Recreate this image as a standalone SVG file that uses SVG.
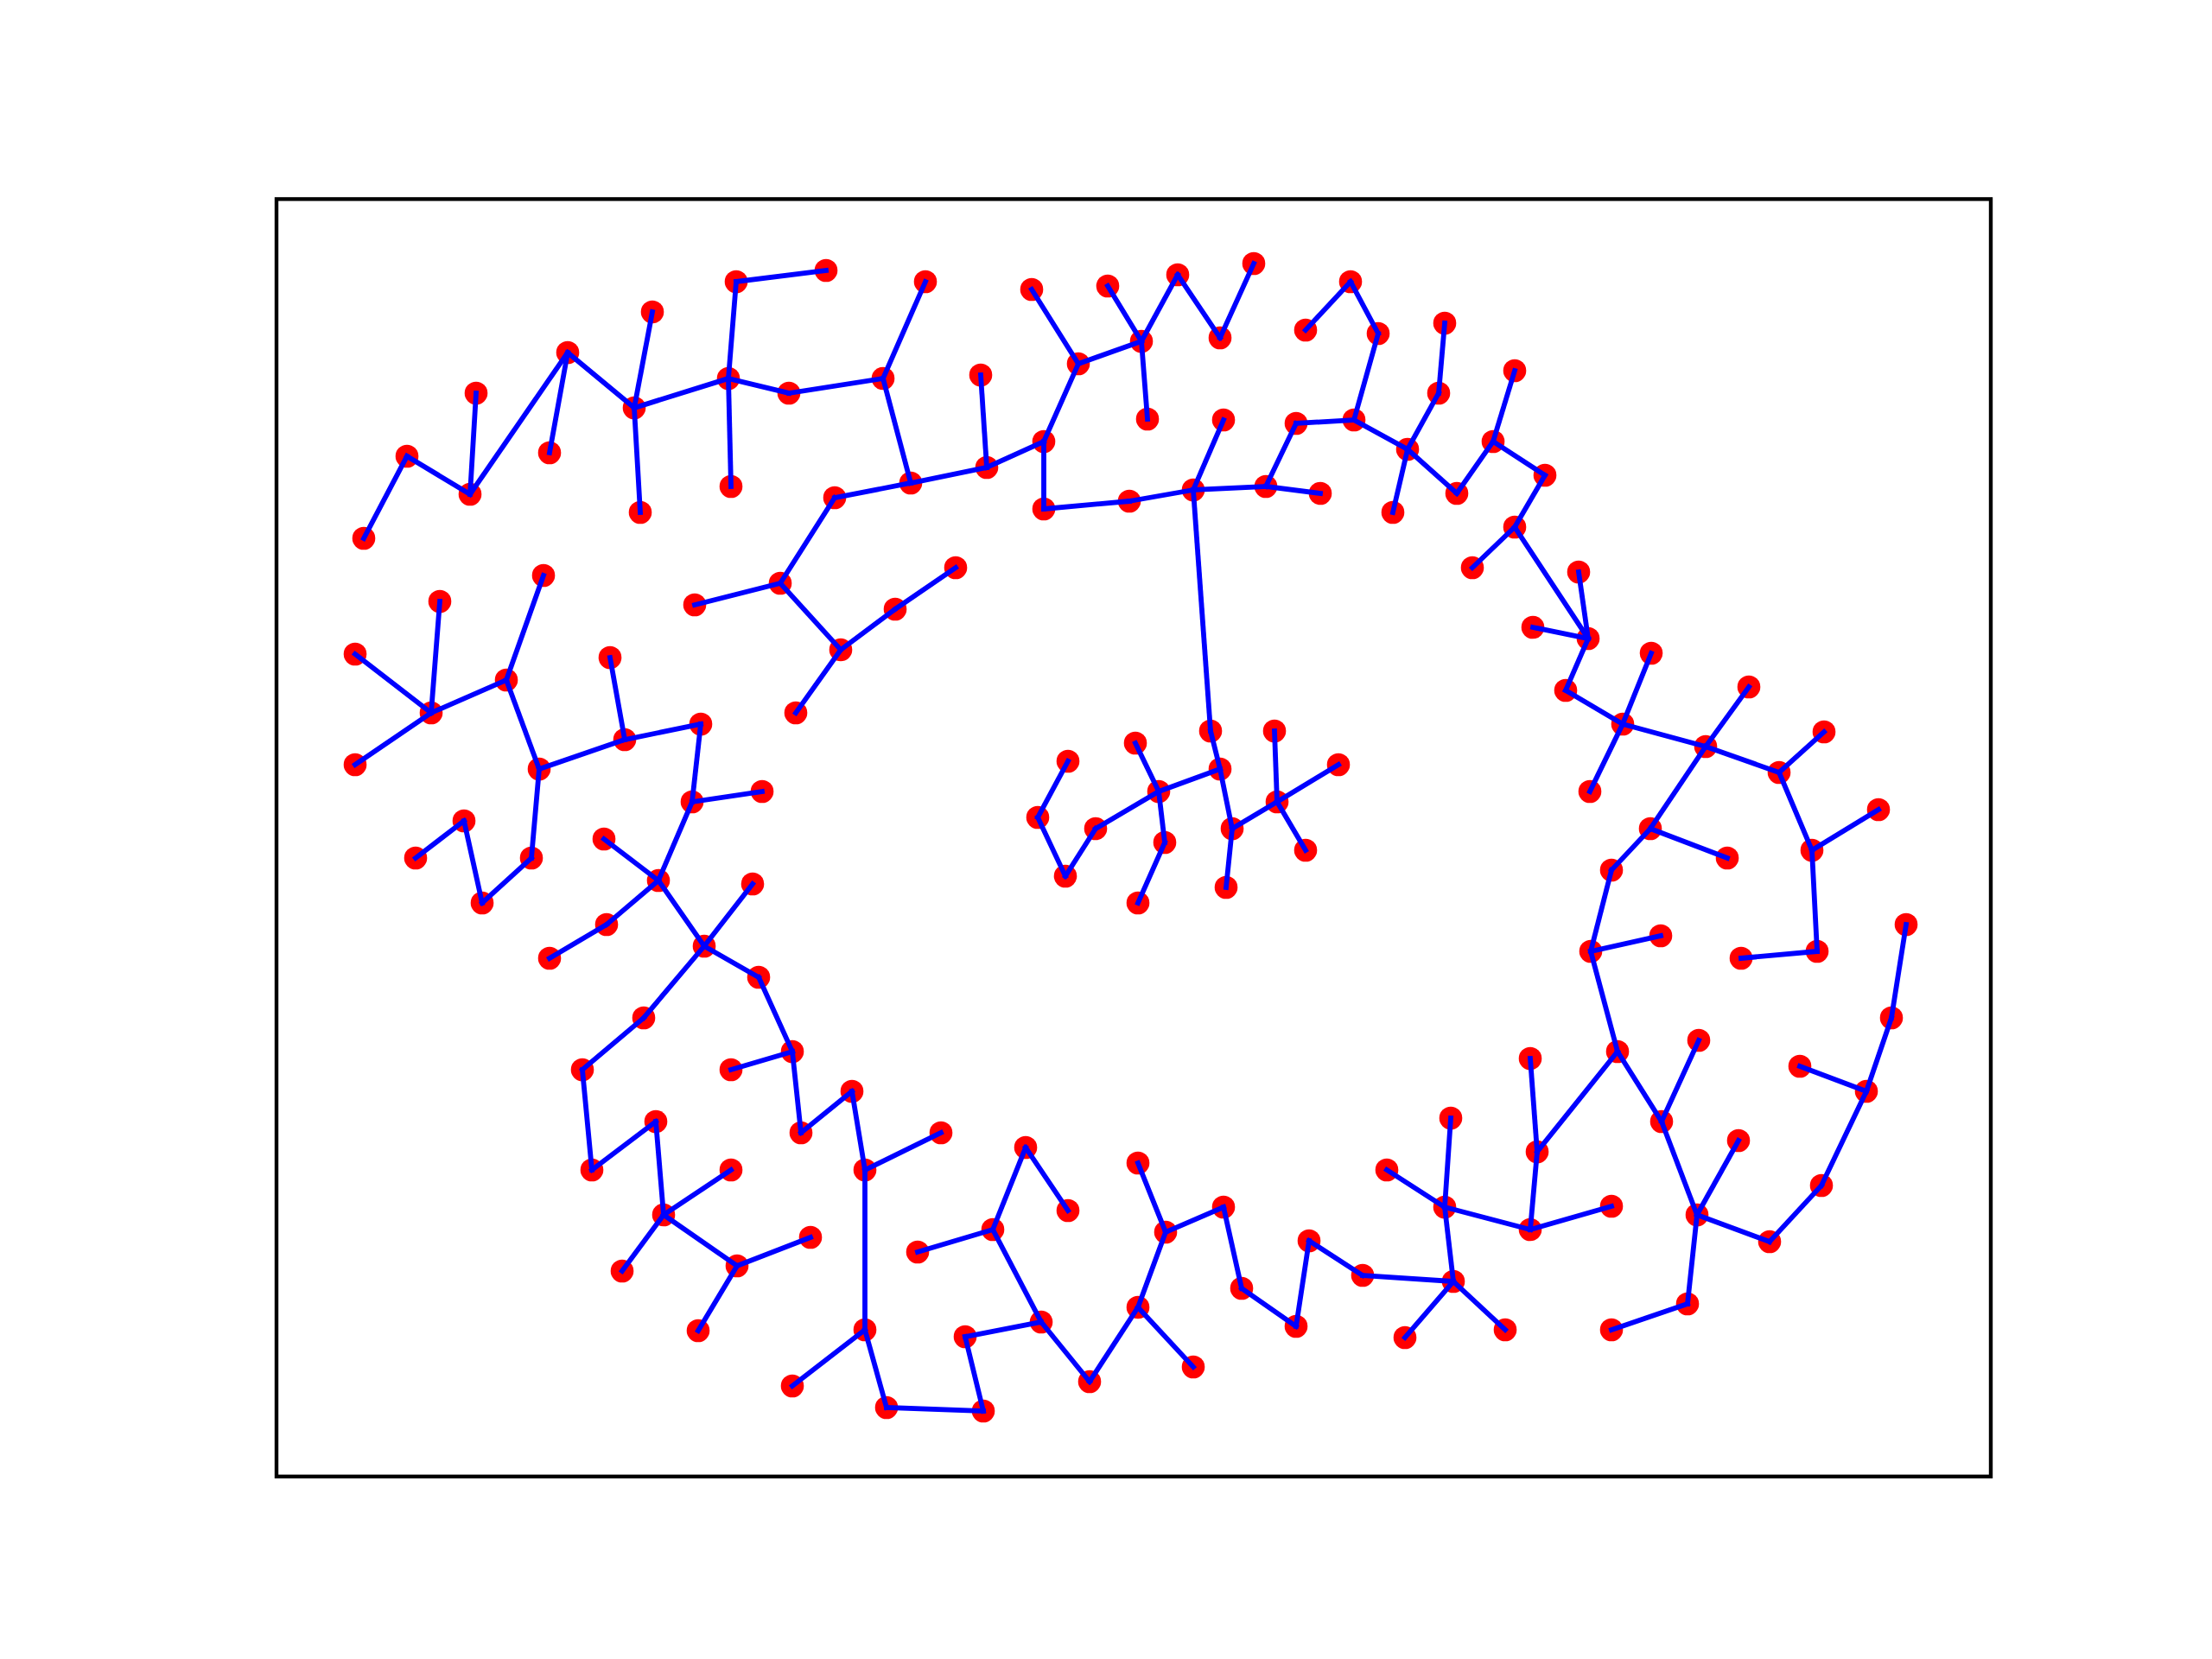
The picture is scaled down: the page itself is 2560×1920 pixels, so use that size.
<svg xmlns="http://www.w3.org/2000/svg" width="2560" height="1920" viewBox="0 0 2560 1920">
<style>
.n{fill:#ff0000}
.e line{stroke:#0000ff;stroke-width:5.8;stroke-linecap:square}
.frame{fill:none;stroke:#000000;stroke-width:4.4}
</style>
<rect width="2560" height="1920" fill="#ffffff"/>
<g id="nodes">
<g id="A1"><circle class="n" cx="421" cy="623" r="13.3"/></g>
<g id="A2"><circle class="n" cx="471" cy="528" r="13.3"/></g>
<g id="A3"><circle class="n" cx="544" cy="572" r="13.3"/></g>
<g id="A4"><circle class="n" cx="551" cy="455" r="13.3"/></g>
<g id="A5"><circle class="n" cx="657" cy="408" r="13.3"/></g>
<g id="A6"><circle class="n" cx="636" cy="524" r="13.3"/></g>
<g id="A7"><circle class="n" cx="734" cy="472" r="13.3"/></g>
<g id="A8"><circle class="n" cx="755" cy="361" r="13.3"/></g>
<g id="A9"><circle class="n" cx="741" cy="593" r="13.3"/></g>
<g id="B1"><circle class="n" cx="852" cy="326" r="13.3"/></g>
<g id="B2"><circle class="n" cx="956" cy="313" r="13.3"/></g>
<g id="B3"><circle class="n" cx="843" cy="438" r="13.3"/></g>
<g id="B4"><circle class="n" cx="846" cy="563" r="13.3"/></g>
<g id="B5"><circle class="n" cx="913" cy="455" r="13.3"/></g>
<g id="B6"><circle class="n" cx="1022" cy="438" r="13.3"/></g>
<g id="B7"><circle class="n" cx="1071" cy="326" r="13.3"/></g>
<g id="B8"><circle class="n" cx="1054" cy="559" r="13.3"/></g>
<g id="B9"><circle class="n" cx="1135" cy="434" r="13.3"/></g>
<g id="B10"><circle class="n" cx="1142" cy="541" r="13.3"/></g>
<g id="B11"><circle class="n" cx="1208" cy="511" r="13.3"/></g>
<g id="B12"><circle class="n" cx="1208" cy="589" r="13.3"/></g>
<g id="B13"><circle class="n" cx="1307" cy="580" r="13.3"/></g>
<g id="B14"><circle class="n" cx="1194" cy="335" r="13.3"/></g>
<g id="B15"><circle class="n" cx="1248" cy="421" r="13.3"/></g>
<g id="B16"><circle class="n" cx="1282" cy="331" r="13.3"/></g>
<g id="B17"><circle class="n" cx="1321" cy="395" r="13.3"/></g>
<g id="B18"><circle class="n" cx="1328" cy="485" r="13.3"/></g>
<g id="B19"><circle class="n" cx="966" cy="576" r="13.3"/></g>
<g id="B20"><circle class="n" cx="903" cy="675" r="13.3"/></g>
<g id="B21"><circle class="n" cx="804" cy="700" r="13.3"/></g>
<g id="B22"><circle class="n" cx="1036" cy="705" r="13.3"/></g>
<g id="B23"><circle class="n" cx="1106" cy="657" r="13.3"/></g>
<g id="B24"><circle class="n" cx="973" cy="752" r="13.3"/></g>
<g id="C1"><circle class="n" cx="1363" cy="318" r="13.3"/></g>
<g id="C2"><circle class="n" cx="1412" cy="391" r="13.3"/></g>
<g id="C3"><circle class="n" cx="1451" cy="305" r="13.3"/></g>
<g id="C5"><circle class="n" cx="1416" cy="486" r="13.3"/></g>
<g id="C6"><circle class="n" cx="1381" cy="567" r="13.3"/></g>
<g id="C8"><circle class="n" cx="1465" cy="563" r="13.3"/></g>
<g id="C9"><circle class="n" cx="1528" cy="571" r="13.3"/></g>
<g id="C10"><circle class="n" cx="1500" cy="490" r="13.3"/></g>
<g id="C11"><circle class="n" cx="1567" cy="486" r="13.3"/></g>
<g id="C12"><circle class="n" cx="1595" cy="386" r="13.3"/></g>
<g id="C13"><circle class="n" cx="1563" cy="326" r="13.3"/></g>
<g id="C14"><circle class="n" cx="1511" cy="382" r="13.3"/></g>
<g id="C15"><circle class="n" cx="1672" cy="374" r="13.3"/></g>
<g id="C16"><circle class="n" cx="1665" cy="455" r="13.3"/></g>
<g id="C17"><circle class="n" cx="1629" cy="520" r="13.3"/></g>
<g id="C18"><circle class="n" cx="1612" cy="593" r="13.3"/></g>
<g id="C19"><circle class="n" cx="1686" cy="571" r="13.3"/></g>
<g id="C20"><circle class="n" cx="1728" cy="511" r="13.3"/></g>
<g id="C21"><circle class="n" cx="1753" cy="429" r="13.3"/></g>
<g id="C22"><circle class="n" cx="1788" cy="550" r="13.3"/></g>
<g id="C23"><circle class="n" cx="1753" cy="610" r="13.3"/></g>
<g id="C24"><circle class="n" cx="1704" cy="657" r="13.3"/></g>
<g id="C25"><circle class="n" cx="1827" cy="662" r="13.3"/></g>
<g id="C26"><circle class="n" cx="1774" cy="726" r="13.3"/></g>
<g id="C27"><circle class="n" cx="1838" cy="739" r="13.3"/></g>
<g id="D1"><circle class="n" cx="411" cy="757" r="13.3"/></g>
<g id="D2"><circle class="n" cx="509" cy="696" r="13.3"/></g>
<g id="D3"><circle class="n" cx="629" cy="666" r="13.3"/></g>
<g id="D5"><circle class="n" cx="499" cy="825" r="13.3"/></g>
<g id="D6"><circle class="n" cx="411" cy="885" r="13.3"/></g>
<g id="D7"><circle class="n" cx="586" cy="787" r="13.3"/></g>
<g id="D8"><circle class="n" cx="624" cy="890" r="13.3"/></g>
<g id="D9"><circle class="n" cx="706" cy="761" r="13.3"/></g>
<g id="D10"><circle class="n" cx="723" cy="856" r="13.3"/></g>
<g id="D11"><circle class="n" cx="811" cy="838" r="13.3"/></g>
<g id="D12"><circle class="n" cx="801" cy="928" r="13.3"/></g>
<g id="D13"><circle class="n" cx="882" cy="916" r="13.3"/></g>
<g id="D14"><circle class="n" cx="537" cy="950" r="13.3"/></g>
<g id="D15"><circle class="n" cx="481" cy="993" r="13.3"/></g>
<g id="D16"><circle class="n" cx="558" cy="1045" r="13.3"/></g>
<g id="D17"><circle class="n" cx="615" cy="993" r="13.3"/></g>
<g id="D18"><circle class="n" cx="699" cy="971" r="13.3"/></g>
<g id="D19"><circle class="n" cx="762" cy="1019" r="13.3"/></g>
<g id="D20"><circle class="n" cx="702" cy="1070" r="13.3"/></g>
<g id="D21"><circle class="n" cx="636" cy="1109" r="13.3"/></g>
<g id="D22"><circle class="n" cx="815" cy="1095" r="13.3"/></g>
<g id="D23"><circle class="n" cx="745" cy="1178" r="13.3"/></g>
<g id="D24"><circle class="n" cx="871" cy="1023" r="13.3"/></g>
<g id="D25"><circle class="n" cx="878" cy="1131" r="13.3"/></g>
<g id="D26"><circle class="n" cx="917" cy="1217" r="13.3"/></g>
<g id="E3"><circle class="n" cx="921" cy="825" r="13.3"/></g>
<g id="E5"><circle class="n" cx="1236" cy="881" r="13.3"/></g>
<g id="E6"><circle class="n" cx="1201" cy="946" r="13.3"/></g>
<g id="E7"><circle class="n" cx="1233" cy="1014" r="13.3"/></g>
<g id="E8"><circle class="n" cx="1268" cy="959" r="13.3"/></g>
<g id="E9"><circle class="n" cx="1314" cy="860" r="13.3"/></g>
<g id="E10"><circle class="n" cx="1341" cy="916" r="13.3"/></g>
<g id="E11"><circle class="n" cx="1348" cy="975" r="13.3"/></g>
<g id="E12"><circle class="n" cx="1317" cy="1045" r="13.3"/></g>
<g id="F2"><circle class="n" cx="1401" cy="846" r="13.3"/></g>
<g id="F3"><circle class="n" cx="1412" cy="890" r="13.3"/></g>
<g id="F4"><circle class="n" cx="1426" cy="959" r="13.3"/></g>
<g id="F5"><circle class="n" cx="1419" cy="1027" r="13.3"/></g>
<g id="F6"><circle class="n" cx="1475" cy="846" r="13.3"/></g>
<g id="F7"><circle class="n" cx="1478" cy="928" r="13.3"/></g>
<g id="F8"><circle class="n" cx="1549" cy="885" r="13.3"/></g>
<g id="F9"><circle class="n" cx="1511" cy="984" r="13.3"/></g>
<g id="G2"><circle class="n" cx="1911" cy="756" r="13.3"/></g>
<g id="G3"><circle class="n" cx="1812" cy="799" r="13.3"/></g>
<g id="G4"><circle class="n" cx="1878" cy="838" r="13.3"/></g>
<g id="G5"><circle class="n" cx="1840" cy="916" r="13.3"/></g>
<g id="G6"><circle class="n" cx="2024" cy="795" r="13.3"/></g>
<g id="G7"><circle class="n" cx="1974" cy="864" r="13.3"/></g>
<g id="G8"><circle class="n" cx="2059" cy="894" r="13.3"/></g>
<g id="G9"><circle class="n" cx="2111" cy="847" r="13.3"/></g>
<g id="G10"><circle class="n" cx="1910" cy="959" r="13.3"/></g>
<g id="G11"><circle class="n" cx="1999" cy="993" r="13.3"/></g>
<g id="G12"><circle class="n" cx="1865" cy="1007" r="13.3"/></g>
<g id="G13"><circle class="n" cx="2097" cy="984" r="13.3"/></g>
<g id="G14"><circle class="n" cx="2174" cy="937" r="13.3"/></g>
<g id="G15"><circle class="n" cx="1841" cy="1101" r="13.3"/></g>
<g id="G16"><circle class="n" cx="1922" cy="1083" r="13.3"/></g>
<g id="G17"><circle class="n" cx="2103" cy="1101" r="13.3"/></g>
<g id="G18"><circle class="n" cx="2015" cy="1109" r="13.3"/></g>
<g id="G19"><circle class="n" cx="2206" cy="1070" r="13.3"/></g>
<g id="G20"><circle class="n" cx="2189" cy="1178" r="13.3"/></g>
<g id="G21"><circle class="n" cx="1872" cy="1217" r="13.3"/></g>
<g id="G22"><circle class="n" cx="1966" cy="1204" r="13.3"/></g>
<g id="H1"><circle class="n" cx="674" cy="1238" r="13.3"/></g>
<g id="H2"><circle class="n" cx="685" cy="1354" r="13.3"/></g>
<g id="H3"><circle class="n" cx="759" cy="1298" r="13.3"/></g>
<g id="H4"><circle class="n" cx="768" cy="1406" r="13.3"/></g>
<g id="H5"><circle class="n" cx="720" cy="1471" r="13.3"/></g>
<g id="H6"><circle class="n" cx="808" cy="1540" r="13.3"/></g>
<g id="H7"><circle class="n" cx="846" cy="1238" r="13.3"/></g>
<g id="H8"><circle class="n" cx="846" cy="1354" r="13.3"/></g>
<g id="H9"><circle class="n" cx="853" cy="1465" r="13.3"/></g>
<g id="I3"><circle class="n" cx="927" cy="1311" r="13.3"/></g>
<g id="I4"><circle class="n" cx="986" cy="1263" r="13.3"/></g>
<g id="I5"><circle class="n" cx="1001" cy="1354" r="13.3"/></g>
<g id="I6"><circle class="n" cx="1089" cy="1311" r="13.3"/></g>
<g id="I7"><circle class="n" cx="938" cy="1432" r="13.3"/></g>
<g id="I8"><circle class="n" cx="1001" cy="1539" r="13.3"/></g>
<g id="I9"><circle class="n" cx="917" cy="1604" r="13.3"/></g>
<g id="I10"><circle class="n" cx="1026" cy="1629" r="13.3"/></g>
<g id="I11"><circle class="n" cx="1138" cy="1633" r="13.3"/></g>
<g id="I12"><circle class="n" cx="1117" cy="1547" r="13.3"/></g>
<g id="I13"><circle class="n" cx="1205" cy="1530" r="13.3"/></g>
<g id="I14"><circle class="n" cx="1261" cy="1599" r="13.3"/></g>
<g id="I15"><circle class="n" cx="1149" cy="1423" r="13.3"/></g>
<g id="I16"><circle class="n" cx="1062" cy="1449" r="13.3"/></g>
<g id="I17"><circle class="n" cx="1187" cy="1328" r="13.3"/></g>
<g id="I18"><circle class="n" cx="1236" cy="1401" r="13.3"/></g>
<g id="I19"><circle class="n" cx="1317" cy="1346" r="13.3"/></g>
<g id="I20"><circle class="n" cx="1317" cy="1513" r="13.3"/></g>
<g id="J2"><circle class="n" cx="1349" cy="1426" r="13.3"/></g>
<g id="J3"><circle class="n" cx="1416" cy="1397" r="13.3"/></g>
<g id="J4"><circle class="n" cx="1437" cy="1491" r="13.3"/></g>
<g id="J5"><circle class="n" cx="1500" cy="1535" r="13.3"/></g>
<g id="J6"><circle class="n" cx="1515" cy="1436" r="13.3"/></g>
<g id="J7"><circle class="n" cx="1577" cy="1476" r="13.3"/></g>
<g id="J8"><circle class="n" cx="1682" cy="1483" r="13.3"/></g>
<g id="J9"><circle class="n" cx="1626" cy="1548" r="13.3"/></g>
<g id="J10"><circle class="n" cx="1742" cy="1539" r="13.3"/></g>
<g id="J11"><circle class="n" cx="1672" cy="1397" r="13.3"/></g>
<g id="J12"><circle class="n" cx="1679" cy="1294" r="13.3"/></g>
<g id="J13"><circle class="n" cx="1605" cy="1354" r="13.3"/></g>
<g id="J14"><circle class="n" cx="1771" cy="1423" r="13.3"/></g>
<g id="J15"><circle class="n" cx="1779" cy="1333" r="13.3"/></g>
<g id="J16"><circle class="n" cx="1771" cy="1225" r="13.3"/></g>
<g id="J18"><circle class="n" cx="1381" cy="1582" r="13.3"/></g>
<g id="K3"><circle class="n" cx="1923" cy="1298" r="13.3"/></g>
<g id="K4"><circle class="n" cx="1865" cy="1396" r="13.3"/></g>
<g id="K5"><circle class="n" cx="1964" cy="1406" r="13.3"/></g>
<g id="K6"><circle class="n" cx="2012" cy="1320" r="13.3"/></g>
<g id="K7"><circle class="n" cx="2048" cy="1437" r="13.3"/></g>
<g id="K8"><circle class="n" cx="2108" cy="1372" r="13.3"/></g>
<g id="K9"><circle class="n" cx="2160" cy="1263" r="13.3"/></g>
<g id="K10"><circle class="n" cx="2083" cy="1234" r="13.3"/></g>
<g id="K11"><circle class="n" cx="1953" cy="1509" r="13.3"/></g>
<g id="K12"><circle class="n" cx="1865" cy="1539" r="13.3"/></g>
</g>
<g id="connectors" class="e">
<line x1="421" y1="623" x2="471" y2="528"/>
<line x1="471" y1="528" x2="544" y2="572"/>
<line x1="544" y1="572" x2="551" y2="455"/>
<line x1="544" y1="572" x2="657" y2="408"/>
<line x1="657" y1="408" x2="636" y2="524"/>
<line x1="657" y1="408" x2="734" y2="472"/>
<line x1="734" y1="472" x2="755" y2="361"/>
<line x1="734" y1="472" x2="843" y2="438"/>
<line x1="734" y1="472" x2="741" y2="593"/>
<line x1="852" y1="326" x2="956" y2="313"/>
<line x1="852" y1="326" x2="843" y2="438"/>
<line x1="843" y1="438" x2="846" y2="563"/>
<line x1="843" y1="438" x2="913" y2="455"/>
<line x1="913" y1="455" x2="1022" y2="438"/>
<line x1="1022" y1="438" x2="1071" y2="326"/>
<line x1="1022" y1="438" x2="1054" y2="559"/>
<line x1="1054" y1="559" x2="1142" y2="541"/>
<line x1="1135" y1="434" x2="1142" y2="541"/>
<line x1="1142" y1="541" x2="1208" y2="511"/>
<line x1="1208" y1="511" x2="1208" y2="589"/>
<line x1="1208" y1="589" x2="1307" y2="580"/>
<line x1="1307" y1="580" x2="1381" y2="567"/>
<line x1="1208" y1="511" x2="1248" y2="421"/>
<line x1="1194" y1="335" x2="1248" y2="421"/>
<line x1="1248" y1="421" x2="1321" y2="395"/>
<line x1="1282" y1="331" x2="1321" y2="395"/>
<line x1="1321" y1="395" x2="1328" y2="485"/>
<line x1="1321" y1="395" x2="1363" y2="318"/>
<line x1="1054" y1="559" x2="966" y2="576"/>
<line x1="966" y1="576" x2="903" y2="675"/>
<line x1="903" y1="675" x2="804" y2="700"/>
<line x1="903" y1="675" x2="973" y2="752"/>
<line x1="973" y1="752" x2="1036" y2="705"/>
<line x1="1036" y1="705" x2="1106" y2="657"/>
<line x1="973" y1="752" x2="921" y2="825"/>
<line x1="1363" y1="318" x2="1412" y2="391"/>
<line x1="1412" y1="391" x2="1451" y2="305"/>
<line x1="1416" y1="486" x2="1381" y2="567"/>
<line x1="1381" y1="567" x2="1465" y2="563"/>
<line x1="1381" y1="567" x2="1401" y2="846"/>
<line x1="1401" y1="846" x2="1412" y2="890"/>
<line x1="1465" y1="563" x2="1528" y2="571"/>
<line x1="1465" y1="563" x2="1500" y2="490"/>
<line x1="1500" y1="490" x2="1567" y2="486"/>
<line x1="1567" y1="486" x2="1595" y2="386"/>
<line x1="1595" y1="386" x2="1563" y2="326"/>
<line x1="1563" y1="326" x2="1511" y2="382"/>
<line x1="1567" y1="486" x2="1629" y2="520"/>
<line x1="1629" y1="520" x2="1665" y2="455"/>
<line x1="1665" y1="455" x2="1672" y2="374"/>
<line x1="1629" y1="520" x2="1612" y2="593"/>
<line x1="1629" y1="520" x2="1686" y2="571"/>
<line x1="1686" y1="571" x2="1728" y2="511"/>
<line x1="1728" y1="511" x2="1753" y2="429"/>
<line x1="1728" y1="511" x2="1788" y2="550"/>
<line x1="1788" y1="550" x2="1753" y2="610"/>
<line x1="1753" y1="610" x2="1704" y2="657"/>
<line x1="1753" y1="610" x2="1838" y2="739"/>
<line x1="1827" y1="662" x2="1838" y2="739"/>
<line x1="1774" y1="726" x2="1838" y2="739"/>
<line x1="1838" y1="739" x2="1812" y2="799"/>
<line x1="1812" y1="799" x2="1878" y2="838"/>
<line x1="1911" y1="756" x2="1878" y2="838"/>
<line x1="1878" y1="838" x2="1840" y2="916"/>
<line x1="1878" y1="838" x2="1974" y2="864"/>
<line x1="2024" y1="795" x2="1974" y2="864"/>
<line x1="1974" y1="864" x2="2059" y2="894"/>
<line x1="1974" y1="864" x2="1910" y2="959"/>
<line x1="2059" y1="894" x2="2111" y2="847"/>
<line x1="2059" y1="894" x2="2097" y2="984"/>
<line x1="2097" y1="984" x2="2174" y2="937"/>
<line x1="2097" y1="984" x2="2103" y2="1101"/>
<line x1="2103" y1="1101" x2="2015" y2="1109"/>
<line x1="1910" y1="959" x2="1999" y2="993"/>
<line x1="1910" y1="959" x2="1865" y2="1007"/>
<line x1="1865" y1="1007" x2="1841" y2="1101"/>
<line x1="1841" y1="1101" x2="1922" y2="1083"/>
<line x1="1841" y1="1101" x2="1872" y2="1217"/>
<line x1="1966" y1="1204" x2="1923" y2="1298"/>
<line x1="2206" y1="1070" x2="2189" y2="1178"/>
<line x1="2189" y1="1178" x2="2160" y2="1263"/>
<line x1="1872" y1="1217" x2="1923" y2="1298"/>
<line x1="1872" y1="1217" x2="1779" y2="1333"/>
<line x1="1923" y1="1298" x2="1964" y2="1406"/>
<line x1="1964" y1="1406" x2="2012" y2="1320"/>
<line x1="1964" y1="1406" x2="2048" y2="1437"/>
<line x1="1964" y1="1406" x2="1953" y2="1509"/>
<line x1="1953" y1="1509" x2="1865" y2="1539"/>
<line x1="2048" y1="1437" x2="2108" y2="1372"/>
<line x1="2108" y1="1372" x2="2160" y2="1263"/>
<line x1="2160" y1="1263" x2="2083" y2="1234"/>
<line x1="1771" y1="1423" x2="1865" y2="1396"/>
<line x1="1771" y1="1225" x2="1779" y2="1333"/>
<line x1="1779" y1="1333" x2="1771" y2="1423"/>
<line x1="1672" y1="1397" x2="1771" y2="1423"/>
<line x1="1672" y1="1397" x2="1679" y2="1294"/>
<line x1="1672" y1="1397" x2="1605" y2="1354"/>
<line x1="1672" y1="1397" x2="1682" y2="1483"/>
<line x1="1682" y1="1483" x2="1577" y2="1476"/>
<line x1="1682" y1="1483" x2="1626" y2="1548"/>
<line x1="1682" y1="1483" x2="1742" y2="1539"/>
<line x1="1577" y1="1476" x2="1515" y2="1436"/>
<line x1="1515" y1="1436" x2="1500" y2="1535"/>
<line x1="1500" y1="1535" x2="1437" y2="1491"/>
<line x1="1437" y1="1491" x2="1416" y2="1397"/>
<line x1="1416" y1="1397" x2="1349" y2="1426"/>
<line x1="1317" y1="1346" x2="1349" y2="1426"/>
<line x1="1349" y1="1426" x2="1317" y2="1513"/>
<line x1="1317" y1="1513" x2="1381" y2="1582"/>
<line x1="1317" y1="1513" x2="1261" y2="1599"/>
<line x1="846" y1="1238" x2="917" y2="1217"/>
<line x1="878" y1="1131" x2="917" y2="1217"/>
<line x1="917" y1="1217" x2="927" y2="1311"/>
<line x1="927" y1="1311" x2="986" y2="1263"/>
<line x1="986" y1="1263" x2="1001" y2="1354"/>
<line x1="1001" y1="1354" x2="1089" y2="1311"/>
<line x1="1001" y1="1354" x2="1001" y2="1539"/>
<line x1="1001" y1="1539" x2="917" y2="1604"/>
<line x1="1001" y1="1539" x2="1026" y2="1629"/>
<line x1="1026" y1="1629" x2="1138" y2="1633"/>
<line x1="1138" y1="1633" x2="1117" y2="1547"/>
<line x1="1117" y1="1547" x2="1205" y2="1530"/>
<line x1="1205" y1="1530" x2="1149" y2="1423"/>
<line x1="1149" y1="1423" x2="1062" y2="1449"/>
<line x1="1149" y1="1423" x2="1187" y2="1328"/>
<line x1="1187" y1="1328" x2="1236" y2="1401"/>
<line x1="1205" y1="1530" x2="1261" y2="1599"/>
<line x1="846" y1="1354" x2="768" y2="1406"/>
<line x1="768" y1="1406" x2="853" y2="1465"/>
<line x1="853" y1="1465" x2="938" y2="1432"/>
<line x1="853" y1="1465" x2="808" y2="1540"/>
<line x1="674" y1="1238" x2="685" y2="1354"/>
<line x1="674" y1="1238" x2="745" y2="1178"/>
<line x1="685" y1="1354" x2="759" y2="1298"/>
<line x1="759" y1="1298" x2="768" y2="1406"/>
<line x1="768" y1="1406" x2="720" y2="1471"/>
<line x1="411" y1="757" x2="499" y2="825"/>
<line x1="509" y1="696" x2="499" y2="825"/>
<line x1="411" y1="885" x2="499" y2="825"/>
<line x1="499" y1="825" x2="586" y2="787"/>
<line x1="629" y1="666" x2="586" y2="787"/>
<line x1="586" y1="787" x2="624" y2="890"/>
<line x1="624" y1="890" x2="723" y2="856"/>
<line x1="706" y1="761" x2="723" y2="856"/>
<line x1="723" y1="856" x2="811" y2="838"/>
<line x1="811" y1="838" x2="801" y2="928"/>
<line x1="801" y1="928" x2="882" y2="916"/>
<line x1="801" y1="928" x2="762" y2="1019"/>
<line x1="624" y1="890" x2="615" y2="993"/>
<line x1="558" y1="1045" x2="615" y2="993"/>
<line x1="537" y1="950" x2="558" y2="1045"/>
<line x1="537" y1="950" x2="481" y2="993"/>
<line x1="699" y1="971" x2="762" y2="1019"/>
<line x1="762" y1="1019" x2="702" y2="1070"/>
<line x1="702" y1="1070" x2="636" y2="1109"/>
<line x1="762" y1="1019" x2="815" y2="1095"/>
<line x1="815" y1="1095" x2="871" y2="1023"/>
<line x1="815" y1="1095" x2="745" y2="1178"/>
<line x1="815" y1="1095" x2="878" y2="1131"/>
<line x1="1236" y1="881" x2="1201" y2="946"/>
<line x1="1201" y1="946" x2="1233" y2="1014"/>
<line x1="1233" y1="1014" x2="1268" y2="959"/>
<line x1="1268" y1="959" x2="1341" y2="916"/>
<line x1="1314" y1="860" x2="1341" y2="916"/>
<line x1="1341" y1="916" x2="1348" y2="975"/>
<line x1="1348" y1="975" x2="1317" y2="1045"/>
<line x1="1341" y1="916" x2="1412" y2="890"/>
<line x1="1412" y1="890" x2="1426" y2="959"/>
<line x1="1426" y1="959" x2="1419" y2="1027"/>
<line x1="1426" y1="959" x2="1478" y2="928"/>
<line x1="1475" y1="846" x2="1478" y2="928"/>
<line x1="1478" y1="928" x2="1549" y2="885"/>
<line x1="1478" y1="928" x2="1511" y2="984"/>
</g>
<rect class="frame" x="320" y="230.4" width="1984" height="1478.4"/>
</svg>
